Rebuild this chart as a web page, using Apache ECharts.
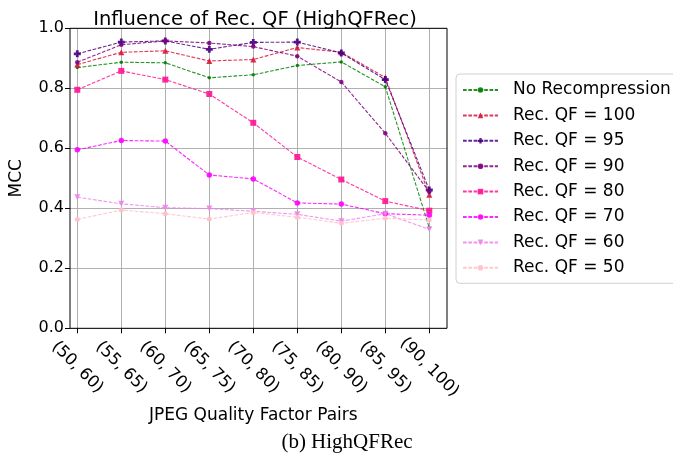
<!DOCTYPE html>
<html>
<head>
<meta charset="utf-8">
<script src="https://cdn.jsdelivr.net/npm/echarts@6/dist/echarts.min.js"></script>
<style>
html,body{margin:0;padding:0;background:#fff;}
#chart{width:673px;height:453px;}
</style>
</head>
<body>
<div id="chart"></div>
<script>
var categories = ['(50, 60)','(55, 65)','(60, 70)','(65, 75)','(70, 80)','(75, 85)','(80, 90)','(85, 95)','(90, 100)'];
var yTicks = [0.0, 0.2, 0.4, 0.6, 0.8, 1.0];
var seriesNames = ['No Recompression','Rec. QF = 100','Rec. QF = 95','Rec. QF = 90','Rec. QF = 80','Rec. QF = 70','Rec. QF = 60','Rec. QF = 50'];
var noRec = [0.869, 0.887, 0.885, 0.835, 0.845, 0.876, 0.888, 0.805, 0.335];
var qf100 = [0.879, 0.920, 0.925, 0.891, 0.896, 0.936, 0.920, 0.836, 0.445];
var qf95  = [0.915, 0.954, 0.958, 0.930, 0.953, 0.954, 0.918, 0.829, 0.461];
var qf90  = [0.887, 0.945, 0.958, 0.951, 0.939, 0.907, 0.821, 0.650, 0.455];
var qf80  = [0.795, 0.858, 0.829, 0.781, 0.685, 0.571, 0.496, 0.424, 0.392];
var qf70  = [0.595, 0.626, 0.624, 0.511, 0.498, 0.418, 0.414, 0.382, 0.377];
var qf60  = [0.437, 0.415, 0.402, 0.399, 0.390, 0.380, 0.357, 0.382, 0.330];
var qf50  = [0.363, 0.394, 0.382, 0.364, 0.386, 0.370, 0.350, 0.367, 0.361];
var allValues = [noRec, qf100, qf95, qf90, qf80, qf70, qf60, qf50];

var colors = ['#008000','#DC143C','#4B0082','#800080','#FF1493','#FF00FF','#EE82EE','#FFC0CB'];
var symbols = ['circle','triangle','path://M3,0 L7,0 L7,3 L10,3 L10,7 L7,7 L7,10 L3,10 L3,7 L0,7 L0,3 L3,3 Z','circle','rect','circle','path://M0,0 L10,0 L5,10 Z','circle'];
var symbolSizes = [3.5, 6, 7, 4.5, 6, 5.5, 6, 5];

var FONT = 'DejaVu Sans';

var series = allValues.map(function(vals, i){
  return {
    name: seriesNames[i],
    type: 'line',
    xAxisIndex: 1,
    yAxisIndex: 1,
    data: vals.map(function(v, k){ return [k, v]; }),
    symbol: symbols[i],
    symbolSize: symbolSizes[i],
    showSymbol: true,
    itemStyle: { color: colors[i], opacity: 0.9 },
    lineStyle: { color: colors[i], width: 1.1, type: [3.7, 1.6], opacity: 0.85 },
    z: 10 + i,
    animation: false
  };
});

var chart = echarts.init(document.getElementById('chart'), null, {renderer: 'canvas'});
chart.setOption({
  animation: false,
  backgroundColor: '#ffffff',
  textStyle: { fontFamily: FONT },
  title: {
    text: 'Influence of Rec. QF (HighQFRec)',
    left: 250, top: 5, textAlign: 'center',
    textStyle: { fontFamily: FONT, fontSize: 19.5, fontWeight: 'normal', color: '#000' }
  },
  legend: {
    data: seriesNames,
    orient: 'vertical',
    left: 456, top: 74,
    padding: [7.5, 8, 7, 6],
    itemWidth: 35, itemHeight: 7, itemGap: 8.4,
    borderColor: '#d0d0d0', borderWidth: 1, borderRadius: 4,
    backgroundColor: '#ffffff',
    textStyle: { fontFamily: FONT, fontSize: 17, color: '#000', padding: [0, 0, 0, 10] }
  },
  grid: [
    { left: 60, right: 226, top: 28.3, bottom: 124.7, show: true, borderColor: '#000', borderWidth: 1, backgroundColor: 'transparent', z: 20 },
    { left: 77.3, right: 243.7, top: 28.3, bottom: 124.7 }
  ],
  xAxis: [
    { gridIndex: 0, type: 'value', min: 0, max: 1, show: false },
    {
      gridIndex: 1, type: 'value', min: 0, max: categories.length - 1, interval: 1,
      axisLine: { show: false },
      axisTick: { show: true, length: 5, lineStyle: { color: '#000' } },
      splitLine: { show: true, lineStyle: { color: '#b0b0b0', width: 1 } },
      axisLabel: {
        formatter: function(v){ return categories[Math.round(v)] || ''; },
        rotate: -45, align: 'center', verticalAlign: 'middle', margin: 39,
        fontFamily: FONT, fontSize: 16.5, color: '#000'
      },
      name: 'JPEG Quality Factor Pairs', nameLocation: 'middle', nameGap: 75,
      nameTextStyle: { fontFamily: FONT, fontSize: 17, color: '#000' }
    }
  ],
  yAxis: [
    {
      gridIndex: 0, type: 'value', min: yTicks[0], max: yTicks[yTicks.length - 1], interval: 0.2,
      axisLine: { show: false },
      axisTick: { show: true, length: 5, lineStyle: { color: '#000' } },
      splitLine: { show: true, lineStyle: { color: '#b0b0b0', width: 1 } },
      axisLabel: { formatter: function(v){ return v.toFixed(1); }, fontFamily: FONT, fontSize: 16, color: '#000', margin: 6 },
      name: 'MCC', nameLocation: 'middle', nameGap: 45, nameRotate: 90,
      nameTextStyle: { fontFamily: FONT, fontSize: 17, color: '#000' }
    },
    { gridIndex: 1, type: 'value', min: 0, max: 1, show: false }
  ],
  graphic: [
    {
      type: 'text', x: 347, y: 442,
      style: { text: '(b) HighQFRec', fontFamily: 'Liberation Serif', fontSize: 21, fill: '#000', textAlign: 'center', textVerticalAlign: 'middle' }
    }
  ],
  series: series
});
</script>
</body>
</html>
